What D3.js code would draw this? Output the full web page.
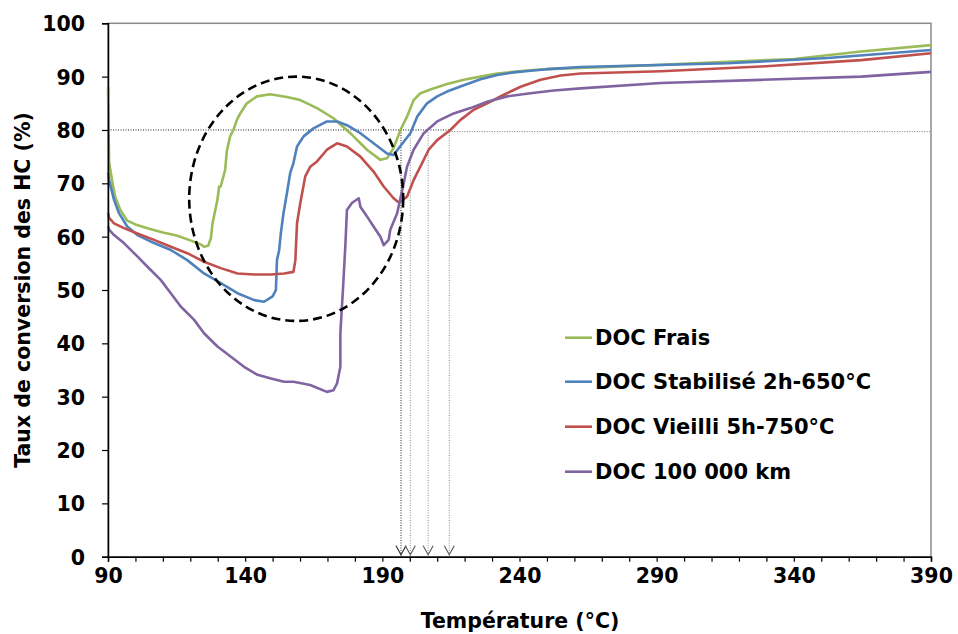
<!DOCTYPE html>
<html><head><meta charset="utf-8">
<script src="https://cdn.jsdelivr.net/npm/d3@7"></script>
<style>
body{margin:0;background:#fff;}
text{font-family:Verdana,"DejaVu Sans",sans-serif;font-weight:bold;fill:#000;}
</style></head>
<body><svg id="c" width="958" height="634"></svg>
<script>
const seriesNames = ["DOC Frais","DOC Stabilisé 2h-650°C","DOC Vieilli 5h-750°C","DOC 100 000 km"];
const seriesColors = ["#9BBB59","#4F81BD","#C0504D","#8064A2"];
const xTickLabels = [90,140,190,240,290,340,390];
const yTickLabels = [0,10,20,30,40,50,60,70,80,90,100];

const frais = [[90,88],[90.2,80],[90.4,74],[90.7,73],[91.5,70.5],[92.6,67.5],[94.5,65],[97,63],[100,62.3],[105,61.5],[110,60.8],[115,60.2],[120,59.3],[124,58.5],[125,58.1],[126.5,58.3],[127.5,59.7],[128.1,62.5],[129.9,66.9],[130.5,69.4],[131.1,69.4],[131.7,70.6],[132.7,72.5],[133.3,76.0],[134.5,78.8],[135.7,80],[137,81.9],[138.2,83.1],[140.6,85],[144.3,86.3],[149.1,86.7],[155.2,86.2],[160.1,85.6],[166.2,84.1],[172.2,82.2],[178.3,79.4],[184.4,76.3],[189.3,74.4],[191.7,74.7],[194.1,76.6],[196.6,80],[199,82.5],[201.4,85.6],[203.9,86.9],[207.5,87.6],[213.6,88.6],[219.7,89.4],[225.8,90],[231.9,90.6],[237.9,90.9],[244,91.2],[250.1,91.4],[259.8,91.6],[291.5,92.2],[303.5,92.5],[340,93.3],[364.5,94.7],[390,95.9]];
const stabilise = [[90,72],[90.4,70.6],[92.2,66.9],[94,64.4],[97,61.9],[100.7,60.3],[106.8,58.8],[112.9,57.5],[118.9,55.6],[125,53.1],[131.1,51.3],[137.2,49.4],[143.3,48.1],[146.9,47.8],[150,48.8],[151.2,50],[151.6,55.6],[152.4,57.5],[153,60.6],[154,64.5],[155.2,68.1],[156.4,71.9],[157.6,73.8],[158.9,76.9],[161.3,78.8],[164.9,80.3],[169.8,81.6],[173.5,81.6],[177.1,80.9],[182,79.4],[186.8,77.5],[191.7,75.6],[194.1,75.3],[196.6,77.0],[200.2,79.4],[202.7,82.5],[206.3,85.0],[210,86.3],[213.6,87.2],[219.7,88.4],[225.8,89.5],[231.9,90.3],[237.9,90.8],[244,91.1],[250.1,91.4],[262.3,91.8],[315.8,92.5],[352.3,93.5],[390,95.0]];
const vieilli = [[90,64.5],[90.4,63.5],[92.2,62.5],[95.8,61.6],[100.7,60.6],[106.8,59.4],[112.9,58.1],[118.9,56.9],[125,55.3],[131.1,54.1],[137.2,53.1],[143.3,52.9],[149.4,52.9],[154.2,53.1],[157.6,53.4],[158.3,55.6],[158.9,62.5],[160.1,66.3],[161.9,71.3],[163.7,73.1],[166.2,74.1],[169.8,76.3],[173.5,77.5],[177.1,76.9],[182,75],[186.8,72.2],[190.5,69.4],[194.1,67.2],[196,66.4],[196.6,66.6],[199,67.5],[201.4,70.6],[204.5,73.8],[206.9,76.3],[210,78.1],[214.8,80],[218.5,81.9],[223.3,83.8],[228.2,85],[234.3,86.6],[240.4,88.1],[247.7,89.4],[255,90.2],[262.3,90.6],[291.5,91],[328,91.9],[364.5,93.1],[390,94.4]];
const km100000 = [[90,62],[90.4,61.3],[92.2,60.3],[95.8,58.8],[100.7,56.3],[104.3,54.4],[109.2,51.9],[112.9,49.4],[116.5,46.9],[121.4,44.4],[125,41.9],[129.9,39.4],[134.8,37.5],[139.6,35.6],[144.5,34.1],[149.4,33.4],[154.2,32.8],[157.6,32.8],[163.7,32.2],[169.8,30.9],[172.2,31.2],[173.5,32.5],[174.7,35.6],[174.7,41.9],[175.7,50.6],[176.5,58.1],[177.1,65],[178.9,66.3],[181.4,67.2],[182,65.6],[184.4,63.8],[186.8,61.9],[189.3,60],[190.5,58.4],[192.3,59.4],[192.9,61.3],[195.4,64.4],[197.8,70],[199,73.1],[201.4,76.3],[205.1,79.4],[210,81.6],[216,83.1],[222.1,84.1],[228.2,85.3],[235.5,86.3],[244,86.9],[252.5,87.4],[262.3,87.8],[291.5,88.8],[328,89.4],[364.5,90],[390,90.9]];
const allSeries = [frais, stabilise, vieilli, km100000];

const crossTemps = [196.8, 200.2, 206.7, 214.4];
const crossColors = ["#222","#888","#888","#888"];
const threshold = 80;
const ellipse = {cx:158.6, cy:67.1, rx:39, ry:22.9};

const svg = d3.select("#c");
const L=108, R=931, T=23.3, B=556.7;
const x = d3.scaleLinear().domain([90,390]).range([L,R]);
const y = d3.scaleLinear().domain([0,100]).range([B,T]);

// frame
svg.append("rect").attr("x",L).attr("y",T).attr("width",R-L).attr("height",B-T)
  .attr("fill","none").attr("stroke","#8a8a8a").attr("stroke-width",1.5);

// threshold line
svg.append("line").attr("x1",x(90)).attr("x2",x(crossTemps[3])).attr("y1",y(threshold)).attr("y2",y(threshold))
  .attr("stroke","#222").attr("stroke-width",1).attr("stroke-dasharray","1,1.5");
svg.append("line").attr("x1",x(crossTemps[3])).attr("x2",x(390)).attr("y1",y(79.7)).attr("y2",y(79.7))
  .attr("stroke","#777").attr("stroke-width",1).attr("stroke-dasharray","1,1.5");

// arrows
const defs = svg.append("defs");
crossColors.forEach((c,i)=>{
  defs.append("marker").attr("id","ar"+i).attr("viewBox","0 0 10 10").attr("refX",5).attr("refY",10)
   .attr("markerWidth",10).attr("markerHeight",10).attr("markerUnits","userSpaceOnUse").attr("orient","auto-start-reverse")
   .append("path").attr("d","M0,2 L5,10 L10,2").attr("fill","none").attr("stroke",c==="#222"?"#222":"#555").attr("stroke-width",1.2);
});
crossTemps.forEach((t,i)=>{
  svg.append("line").attr("x1",x(t)).attr("x2",x(t)).attr("y1",y(threshold)).attr("y2",y(0)-1)
   .attr("stroke",crossColors[i]).attr("stroke-width",1).attr("stroke-dasharray","1,1.5");
  svg.append("path").attr("d",`M${x(t)-5},${y(0)-11} L${x(t)},${y(0)-2} L${x(t)+5},${y(0)-11}`)
   .attr("fill","none").attr("stroke",i===0?"#222":"#555").attr("stroke-width",1.1);
});

// series
const line = d3.line().x(d=>x(d[0])).y(d=>y(d[1]));
allSeries.forEach((s,i)=>{
  svg.append("path").datum(s).attr("d",line).attr("fill","none")
    .attr("stroke",seriesColors[i]).attr("stroke-width",2.6).attr("stroke-linejoin","round");
});

// ellipse
svg.append("ellipse").attr("cx",x(ellipse.cx)).attr("cy",y(ellipse.cy))
  .attr("rx",x(ellipse.cx+ellipse.rx)-x(ellipse.cx)).attr("ry",y(ellipse.cy)-y(ellipse.cy+ellipse.ry))
  .attr("fill","none").attr("stroke","#000").attr("stroke-width",2.6).attr("stroke-dasharray","9,5");

// axes
const xAxis = d3.axisBottom(x).tickValues(d3.range(90,391,10)).tickSize(5)
  .tickFormat(d=> xTickLabels.includes(d)? d : "");
const gx = svg.append("g").attr("transform",`translate(0,${B})`).call(xAxis);
gx.select(".domain").attr("stroke","#000").attr("stroke-width",1.5);
gx.selectAll(".tick line").attr("stroke","#000").attr("stroke-width",1.2);
gx.selectAll(".tick text").attr("font-size","20.5px").attr("dy","1.05em").attr("y",5)
  .style("font-family",'Verdana,"DejaVu Sans",sans-serif').style("font-weight","bold");

const yAxis = d3.axisLeft(y).tickValues(yTickLabels).tickSize(6);
const gy = svg.append("g").attr("transform",`translate(${L},0)`).call(yAxis);
gy.select(".domain").attr("stroke","#000").attr("stroke-width",1.5);
gy.selectAll(".tick line").attr("stroke","#000").attr("stroke-width",1.2);
gy.selectAll(".tick text").attr("font-size","20.5px").attr("x",-23).attr("dy","0.36em")
  .style("font-family",'Verdana,"DejaVu Sans",sans-serif').style("font-weight","bold");

// titles
svg.append("text").attr("transform","translate(30,290) rotate(-90)").attr("text-anchor","middle")
  .attr("font-size","20.5px").text("Taux de conversion des HC (%)");
svg.append("text").attr("x",520).attr("y",628).attr("text-anchor","middle")
  .attr("font-size","20.5px").text("Température (°C)");

// legend
const legY = [337.7, 381.7, 426.7, 471.7];
seriesNames.forEach((n,i)=>{
  svg.append("line").attr("x1",565).attr("x2",592).attr("y1",legY[i]).attr("y2",legY[i])
    .attr("stroke",seriesColors[i]).attr("stroke-width",2.6);
  svg.append("text").attr("x",595).attr("y",legY[i]).attr("dy","0.36em").attr("font-size","21px").text(n);
});
</script></body></html>
